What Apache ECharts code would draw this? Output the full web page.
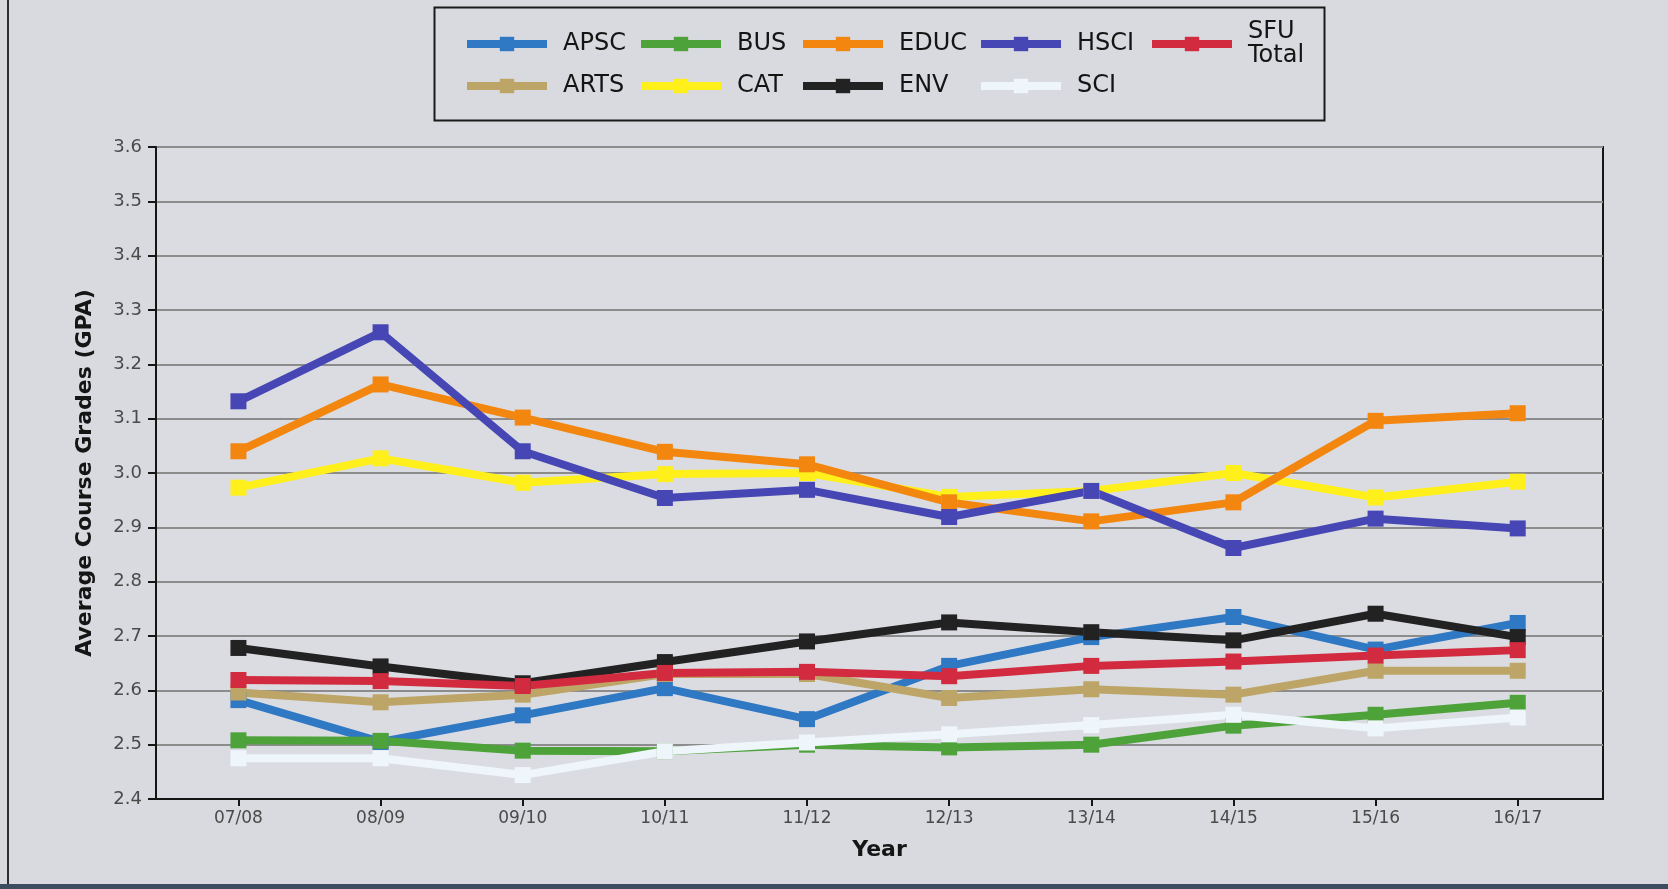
<!DOCTYPE html>
<html>
<head>
<meta charset="utf-8">
<title>Average Course Grades by Faculty</title>
<script src="https://cdn.jsdelivr.net/npm/echarts@6/dist/echarts.min.js"></script>
<style>
  html, body { margin: 0; padding: 0; background: #d9dadf; }
  #chart { width: 1668px; height: 889px; }
</style>
</head>
<body>
<div id="chart"></div>
<script>
// Academic years on the horizontal axis
const years = ['07/08', '08/09', '09/10', '10/11', '11/12', '12/13', '13/14', '14/15', '15/16', '16/17'];

// Average course grade (GPA) per faculty and year
const apsc     = [2.582, 2.505, 2.554, 2.604, 2.547, 2.645, 2.698, 2.735, 2.675, 2.724];
const arts     = [2.596, 2.578, 2.592, 2.630, 2.630, 2.586, 2.602, 2.592, 2.636, 2.636];
const bus      = [2.508, 2.507, 2.489, 2.488, 2.500, 2.495, 2.500, 2.535, 2.555, 2.577];
const cat      = [2.973, 3.027, 2.982, 2.998, 3.000, 2.956, 2.967, 3.000, 2.955, 2.984];
const educ     = [3.040, 3.163, 3.102, 3.039, 3.016, 2.946, 2.911, 2.946, 3.096, 3.110];
const env      = [2.678, 2.644, 2.613, 2.652, 2.690, 2.725, 2.707, 2.692, 2.741, 2.698];
const hsci     = [3.132, 3.259, 3.040, 2.954, 2.969, 2.919, 2.967, 2.862, 2.916, 2.898];
const sci      = [2.475, 2.475, 2.444, 2.488, 2.504, 2.519, 2.536, 2.555, 2.530, 2.550];
const sfuTotal = [2.619, 2.617, 2.608, 2.632, 2.634, 2.626, 2.645, 2.653, 2.664, 2.674];

// Y axis range and step
const yMin = 2.4, yMax = 3.6, yStep = 0.1;

const FONT = '"DejaVu Sans", Verdana, sans-serif';

// Drawing order: later series sit on top
const seriesDefs = [
  { name: 'APSC',      data: apsc,     color: '#2f78c4' },
  { name: 'ARTS',      data: arts,     color: '#bca567' },
  { name: 'BUS',       data: bus,      color: '#4da23a' },
  { name: 'CAT',       data: cat,      color: '#fff01c' },
  { name: 'EDUC',      data: educ,     color: '#f2860f' },
  { name: 'ENV',       data: env,      color: '#222222' },
  { name: 'HSCI',      data: hsci,     color: '#4646b4' },
  { name: 'SCI',       data: sci,      color: '#eef6fc' },
  { name: 'SFU Total', data: sfuTotal, color: '#d22b3f' }
];

const yearIdx = years.map((_, i) => i);

const series = seriesDefs.map(d => ({
  name: d.name,
  type: 'line',
  data: d.data.map((v, i) => [i, v]),
  color: d.color,
  symbol: 'rect',
  symbolSize: 16,
  showSymbol: true,
  lineStyle: { width: 8, color: d.color },
  itemStyle: { color: d.color },
  emphasis: { disabled: true },
  animation: false
}));

// Legend columns (two rows each), aligned like a table
const legendCols = [
  { items: ['APSC', 'ARTS'], left: 463 },
  { items: ['BUS', 'CAT'],   left: 637 },
  { items: ['EDUC', 'ENV'],  left: 799 },
  { items: ['HSCI', 'SCI'],  left: 977 },
  { items: ['SFU Total'],    left: 1148, top: 20 }
];

const legends = legendCols.map(c => ({
  data: c.items,
  orient: 'vertical',
  left: c.left,
  top: c.top !== undefined ? c.top : 32,
  padding: 0,
  itemWidth: 80,
  itemHeight: 18,
  itemGap: 18,
  selectedMode: false,
  lineStyle: { width: 8 },
  formatter: n => n === 'SFU Total' ? 'SFU\nTotal' : n,
  textStyle: {
    fontFamily: FONT,
    fontSize: 24,
    lineHeight: 24,
    color: '#141414',
    padding: [0, 0, 0, 11]
  }
}));

const chart = echarts.init(document.getElementById('chart'), null, { renderer: 'canvas' });

chart.setOption({
  backgroundColor: '#d9dadf',
  animation: false,
  legend: legends,
  grid: {
    left: 156,
    right: 65,
    top: 147,
    bottom: 90,
    show: true,
    backgroundColor: '#dbdce1',
    borderColor: '#151515',
    borderWidth: 2
  },
  xAxis: {
    type: 'value',
    min: -0.58,
    max: 9.6,
    name: 'Year',
    nameLocation: 'middle',
    nameGap: 40,
    nameTextStyle: { fontFamily: FONT, fontSize: 22, fontWeight: 'bold', color: '#151515' },
    axisLine: { show: true, onZero: false, lineStyle: { color: '#151515', width: 2 } },
    axisTick: { show: true, length: 7, customValues: yearIdx, lineStyle: { color: '#151515', width: 2 } },
    axisLabel: {
      customValues: yearIdx,
      formatter: v => years[Math.round(v)],
      fontFamily: FONT, fontSize: 17, color: '#4a4a4a', margin: 11
    },
    splitLine: { show: false }
  },
  yAxis: {
    type: 'value',
    min: yMin,
    max: yMax,
    interval: yStep,
    name: 'Average Course Grades (GPA)',
    nameLocation: 'middle',
    nameRotate: 90,
    nameGap: 60,
    nameTextStyle: { fontFamily: FONT, fontSize: 22, fontWeight: 'bold', color: '#151515' },
    axisLine: { show: true, onZero: false, lineStyle: { color: '#151515', width: 2 } },
    axisTick: { show: true, length: 8, lineStyle: { color: '#151515', width: 2 } },
    axisLabel: {
      formatter: v => v.toFixed(1),
      fontFamily: FONT, fontSize: 18, color: '#4a4a4a', margin: 14
    },
    splitLine: { show: true, lineStyle: { color: '#8c8c8c', width: 2 } }
  },
  graphic: [
    // legend frame
    { type: 'rect', left: 432, top: 5, shape: { width: 890, height: 113 },
      style: { fill: null, stroke: '#1a1a1a', lineWidth: 2 }, z: 10, silent: true },
    // page edges
    { type: 'rect', left: 7, top: 0, shape: { width: 2, height: 889 },
      style: { fill: '#2c2f33' }, silent: true },
    { type: 'rect', left: 0, top: 884, shape: { width: 1668, height: 5 },
      style: { fill: '#3b4d5f' }, silent: true }
  ],
  series: series
});
</script>
</body>
</html>
